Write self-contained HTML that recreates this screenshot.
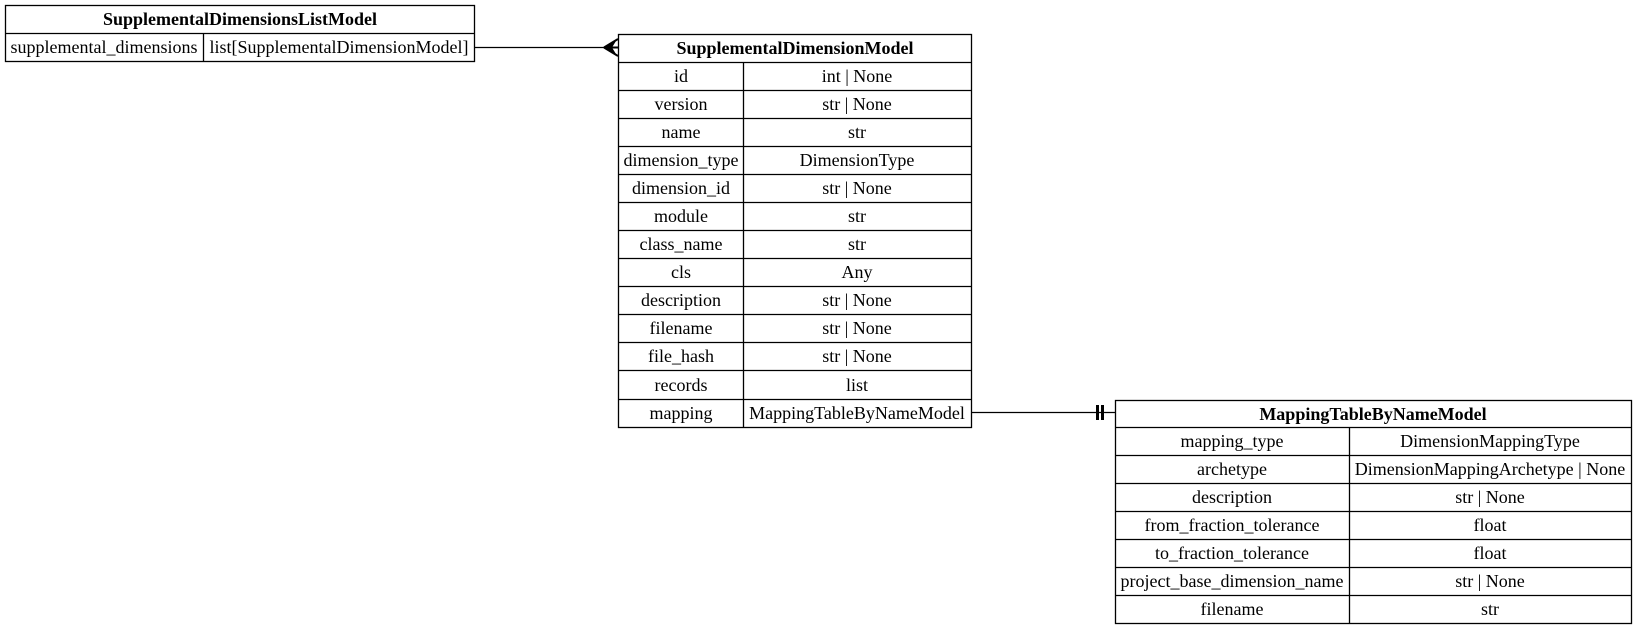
<!DOCTYPE html>
<html><head><meta charset="utf-8"><style>
html,body{margin:0;padding:0;background:#fff;}
svg{display:block}
text{font-family:"Liberation Serif",serif;font-size:18px;fill:#000;}
.b{font-weight:bold}
</style></head><body>
<svg width="1636" height="629" viewBox="0 0 1636 629" xmlns="http://www.w3.org/2000/svg">
<g fill="none" stroke="#000" stroke-width="1.3">
<!-- table1 -->
<rect x="5.5" y="5.5" width="469" height="56"/>
<line x1="5.5" y1="33.5" x2="474.5" y2="33.5"/>
<line x1="203.5" y1="33.5" x2="203.5" y2="61.5"/>
<!-- table2 -->
<rect x="618.5" y="34.5" width="353" height="393"/>
<line x1="743.5" y1="62.5" x2="743.5" y2="427.5"/>
<!-- table3 -->
<rect x="1115.5" y="400.5" width="516" height="223"/>
<line x1="1349.5" y1="427.5" x2="1349.5" y2="623.5"/>
<!-- edges -->
<line x1="474.5" y1="47.5" x2="618" y2="47.5"/>
<line x1="971.5" y1="412.5" x2="1115" y2="412.5"/>
</g>
<g stroke="#000" stroke-width="1.3">
<line x1="618.5" y1="62.5" x2="971.5" y2="62.5"/>
<line x1="618.5" y1="90.5" x2="971.5" y2="90.5"/>
<line x1="618.5" y1="118.5" x2="971.5" y2="118.5"/>
<line x1="618.5" y1="146.5" x2="971.5" y2="146.5"/>
<line x1="618.5" y1="174.5" x2="971.5" y2="174.5"/>
<line x1="618.5" y1="202.5" x2="971.5" y2="202.5"/>
<line x1="618.5" y1="230.5" x2="971.5" y2="230.5"/>
<line x1="618.5" y1="258.5" x2="971.5" y2="258.5"/>
<line x1="618.5" y1="286.5" x2="971.5" y2="286.5"/>
<line x1="618.5" y1="314.5" x2="971.5" y2="314.5"/>
<line x1="618.5" y1="342.5" x2="971.5" y2="342.5"/>
<line x1="618.5" y1="370.5" x2="971.5" y2="370.5"/>
<line x1="618.5" y1="399.5" x2="971.5" y2="399.5"/>
<line x1="1115.5" y1="427.5" x2="1631.5" y2="427.5"/>
<line x1="1115.5" y1="455.5" x2="1631.5" y2="455.5"/>
<line x1="1115.5" y1="483.5" x2="1631.5" y2="483.5"/>
<line x1="1115.5" y1="511.5" x2="1631.5" y2="511.5"/>
<line x1="1115.5" y1="539.5" x2="1631.5" y2="539.5"/>
<line x1="1115.5" y1="567.5" x2="1631.5" y2="567.5"/>
<line x1="1115.5" y1="595.5" x2="1631.5" y2="595.5"/>
</g>
<!-- crow's foot -->
<path d="M604 47.5 L618 39 M604 47.5 L618 56 M604 47.5 L618 47.5" stroke="#000" stroke-width="2" fill="none"/>
<path d="M605 47.5 L616 41 L612 47.5 L616 54 Z" fill="#000"/>
<!-- bars -->
<rect x="1096" y="405" width="3" height="15" fill="#000"/>
<rect x="1101" y="405" width="3" height="15" fill="#000"/>

<g text-anchor="middle">
<text class="b" x="240" y="25">SupplementalDimensionsListModel</text>
<text x="104" y="53">supplemental_dimensions</text>
<text x="339" y="53">list[SupplementalDimensionModel]</text>

<text class="b" x="795" y="54">SupplementalDimensionModel</text>
<text x="681" y="82">id</text><text x="857" y="82">int | None</text>
<text x="681" y="110">version</text><text x="857" y="110">str | None</text>
<text x="681" y="138">name</text><text x="857" y="138">str</text>
<text x="681" y="166">dimension_type</text><text x="857" y="166">DimensionType</text>
<text x="681" y="194">dimension_id</text><text x="857" y="194">str | None</text>
<text x="681" y="222">module</text><text x="857" y="222">str</text>
<text x="681" y="250">class_name</text><text x="857" y="250">str</text>
<text x="681" y="278">cls</text><text x="857" y="278">Any</text>
<text x="681" y="306">description</text><text x="857" y="306">str | None</text>
<text x="681" y="334">filename</text><text x="857" y="334">str | None</text>
<text x="681" y="362">file_hash</text><text x="857" y="362">str | None</text>
<text x="681" y="391">records</text><text x="857" y="391">list</text>
<text x="681" y="419">mapping</text><text x="857" y="419">MappingTableByNameModel</text>

<text class="b" x="1373" y="420">MappingTableByNameModel</text>
<text x="1232" y="447">mapping_type</text><text x="1490" y="447">DimensionMappingType</text>
<text x="1232" y="475">archetype</text><text x="1490" y="475">DimensionMappingArchetype | None</text>
<text x="1232" y="503">description</text><text x="1490" y="503">str | None</text>
<text x="1232" y="531">from_fraction_tolerance</text><text x="1490" y="531">float</text>
<text x="1232" y="559">to_fraction_tolerance</text><text x="1490" y="559">float</text>
<text x="1232" y="587">project_base_dimension_name</text><text x="1490" y="587">str | None</text>
<text x="1232" y="615">filename</text><text x="1490" y="615">str</text>
</g>
</svg>
</body></html>
